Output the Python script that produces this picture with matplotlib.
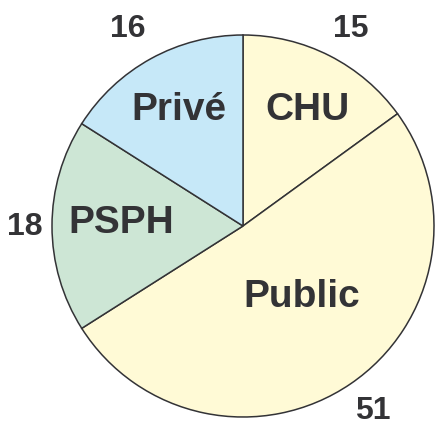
import numpy as np
import matplotlib
matplotlib.use("Agg")
import matplotlib.pyplot as plt

# Données du graphique
categories = ["CHU", "Public", "PSPH", "Privé"]
valeurs = [15, 51, 18, 16]
couleurs = ["#FFFAD6", "#FFFAD6", "#CDE6D5", "#C6E8F8"]
# placement des étiquettes : distance radiale et décalage d'angle (degrés)
dist_nom = [0.70, 0.48, 0.64, 0.70]
decal_nom = [-2, 6, -2, 0]
dist_val = [1.18, 1.18, 1.14, 1.20]
decal_val = [-1.5, 1, 0, 1.5]

plt.rcParams['font.family'] = ['Liberation Sans', 'DejaVu Sans']
texte = "#333336"

fig = plt.figure(figsize=(4.36, 4.27), dpi=100)
ax = fig.add_axes([52 / 436, 9 / 427, 382 / 436, 382 / 427])

wedges, _ = ax.pie(valeurs, colors=couleurs, startangle=90, counterclock=False,
                   wedgeprops=dict(edgecolor="#333336", linewidth=1.1))

for i, w in enumerate(wedges):
    milieu = (w.theta1 + w.theta2) / 2
    a = np.deg2rad(milieu + decal_nom[i])
    ax.text(dist_nom[i] * np.cos(a), dist_nom[i] * np.sin(a), categories[i],
            ha="center", va="center", fontsize=28, fontweight="bold", color=texte)
    a = np.deg2rad(milieu + decal_val[i])
    ax.text(dist_val[i] * np.cos(a), dist_val[i] * np.sin(a), str(valeurs[i]),
            ha="center", va="center", fontsize=23, fontweight="bold", color=texte)

ax.set_xlim(-1, 1)
ax.set_ylim(-1, 1)
ax.set_aspect("auto")
ax.axis("off")

fig.savefig("out.png", dpi=100)
